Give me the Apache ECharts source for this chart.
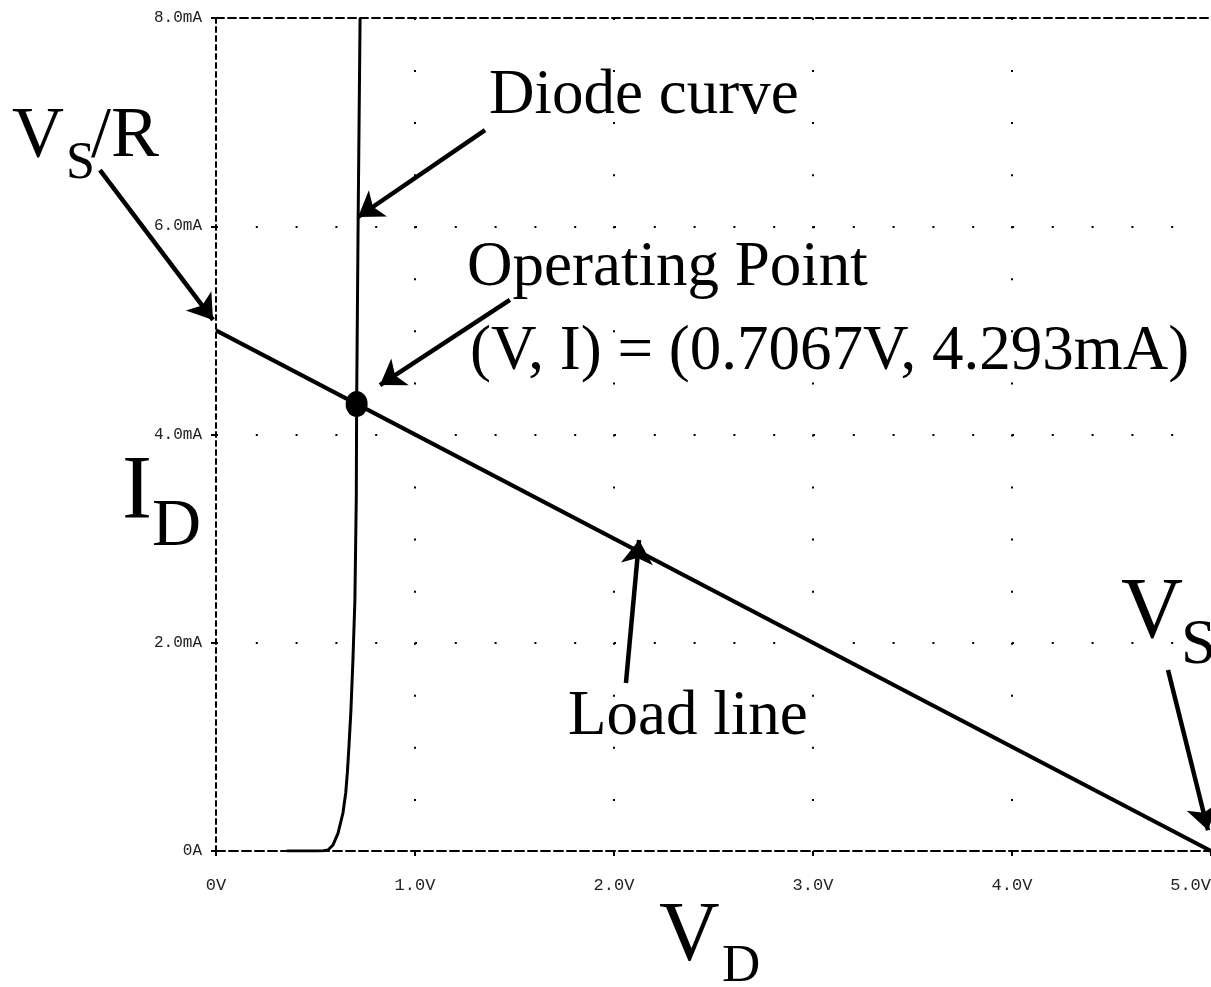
<!DOCTYPE html>
<html>
<head>
<meta charset="utf-8">
<script src="https://cdn.jsdelivr.net/npm/echarts@6/dist/echarts.min.js"></script>
<style>
html,body{margin:0;padding:0;background:#fff;}
#chart{width:1211px;height:987px;}
</style>
</head>
<body>
<div id="chart"></div>
<script>
// diode I-V curve (V, mA)
var diode_v=[0.355,0.50,0.54,0.563,0.588,0.613,0.638,0.652,0.660,0.668,0.678,0.688,0.698,0.705,0.7067,0.714,0.724];
var diode_i=[0,0,0.003,0.01,0.058,0.17,0.365,0.56,0.75,1.0,1.35,1.83,2.41,3.4,4.293,6.0,8.0];
// load line end points
var load_v=[0,5];
var load_i=[5,0];
var op_point=[0.7067,4.293];
var x_ticks=['0V','1.0V','2.0V','3.0V','4.0V','5.0V'];
var y_ticks=['0A','2.0mA','4.0mA','6.0mA','8.0mA'];
// annotation arrows [tail, tip] in (V, mA)
var arrows=[
  [[1.352,6.924],[0.714,6.089]],
  [[-0.583,6.540],[-0.015,5.100]],
  [[1.477,5.292],[0.824,4.475]],
  [[2.060,1.613],[2.126,2.987]],
  [[4.784,1.738],[4.985,0.2]]
];

var serif='"Liberation Serif","Times New Roman",serif';
function txt(t,x,y,size){
  return {type:'text',x:x,y:y,z:20,style:{text:t,font:size+'px '+serif,fill:'#000',align:'left',verticalAlign:'middle'}};
}

var dom=document.getElementById('chart');
var myChart=echarts.init(dom);
var diode_data=diode_v.map(function(v,i){return [v,diode_i[i]];});
var load_data=load_v.map(function(v,i){return [v,load_i[i]];});

var option={
  animation:false,
  backgroundColor:'#fff',
  grid:{left:216,right:0,top:18,bottom:136,containLabel:false,outerBoundsMode:'none'},
  xAxis:[{
    type:'value',min:0,max:5,interval:1,position:'bottom',
    axisLine:{onZero:false,lineStyle:{color:'#000',width:2,type:[9,4]}},
    axisTick:{show:true,length:5,lineStyle:{color:'#000',width:2}},
    axisLabel:{margin:26,fontFamily:'"Liberation Mono",monospace',fontSize:17,color:'#222',
      alignMaxLabel:'right',
      formatter:function(v){return x_ticks[Math.round(v)];}},
    splitLine:{show:true,showMinLine:false,showMaxLine:false,lineStyle:{color:'#000',width:2,type:[2,50.06]}}
  },{
    type:'value',min:0,max:5,interval:1,position:'top',
    axisLine:{onZero:false,lineStyle:{color:'#000',width:2,type:[8,4]}},
    axisTick:{show:false},axisLabel:{show:false},splitLine:{show:false}
  }],
  yAxis:[{
    type:'value',min:0,max:8,interval:2,position:'left',
    axisLine:{show:true,onZero:false,lineStyle:{color:'#000',width:2,type:[5,4]}},
    axisTick:{show:true,length:5,lineStyle:{color:'#000',width:2}},
    axisLabel:{margin:14,fontFamily:'"Liberation Mono",monospace',fontSize:16,color:'#222',
      formatter:function(v){return y_ticks[Math.round(v/2)];}},
    splitLine:{show:true,showMinLine:false,showMaxLine:false,lineStyle:{color:'#000',width:2,type:[2,37.8]}}
  }],
  series:[{
    name:'diode',type:'line',data:diode_data,showSymbol:false,z:3,
    lineStyle:{color:'#000',width:3}
  },{
    name:'load',type:'line',data:load_data,showSymbol:false,z:3,
    lineStyle:{color:'#000',width:4}
  },{
    name:'op',type:'scatter',data:[op_point],symbol:'circle',symbolSize:[22,26],z:4,
    itemStyle:{color:'#000',opacity:1}
  },{
    name:'arrows',type:'lines',coordinateSystem:'cartesian2d',clip:false,z:5,
    symbol:['none','arrow'],symbolSize:[18,24],
    lineStyle:{color:'#000',width:4.5,opacity:1,curveness:0},
    data:arrows.map(function(a){return {coords:a};})
  }],
  graphic:[
    txt('V',12,137,72),txt('S',66,164,52),txt('/R',91,137,72),
    txt('I',122,494,90),txt('D',152,527,68),
    txt('V',659,938,84),txt('D',722,967,53),
    txt('V',1121,614,86),txt('S',1181,646,63),
    txt('Diode curve',489,96,63),
    txt('Operating Point',467,268,63),
    txt('(V, I) = (0.7067V, 4.293mA)',470,352,63),
    txt('Load line',568,717,63)
  ]
};
if (option && typeof option === "object") {
  myChart.setOption(option, true);
}
</script>
</body>
</html>
